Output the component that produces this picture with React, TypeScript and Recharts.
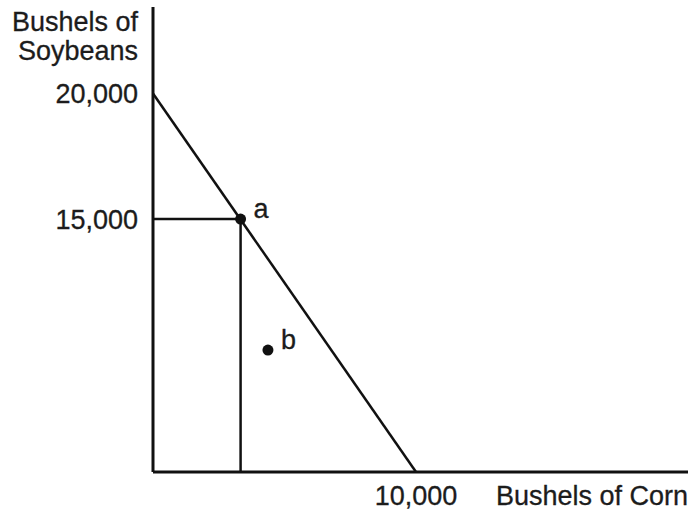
import { ComposedChart, Line, Scatter, XAxis, YAxis, Label, LabelList } from 'recharts';

// Production possibilities: corn vs soybeans.
// The figure is a sketch, so the axis scale is taken from its own tick labels
// (20,000 and 15,000 on the soybean axis, 10,000 on the corn axis).
const X_DOMAIN = [0, 20340];
const Y_DOMAIN = [4920, 23450];
const X_TICKS = [10000];
const Y_TICKS = [15000, 20000];

// frontier, from the soybean intercept to the corn intercept
const PPF = [
  { corn: 0, soy: 20000 },
  { corn: 10000, soy: 4920 },
];

// guides from point a to both axes
const GUIDE_H = [
  { corn: 0, soy: 15000 },
  { corn: 3330, soy: 15000 },
];
const GUIDE_V = [
  { corn: 3330, soy: 15000 },
  { corn: 3330, soy: 4920 },
];

const POINTS = [
  { corn: 3330, soy: 15000, name: 'a' },
  { corn: 4370, soy: 9780, name: 'b' },
];

const FONT = '"Liberation Sans", Arial, Helvetica, sans-serif';
const FS = 27;
const INK = '#111';
const TEXT = '#1c1c1c';

function Dot(props: any) {
  return <circle cx={props.cx} cy={props.cy} r={5.5} fill={INK} />;
}

function PointLabel(props: any) {
  const { x, y, width, height, value } = props;
  const cx = x + width / 2;
  const cy = y + height / 2;
  return (
    <text x={cx + 13} y={cy - 1} fontSize={FS} fontFamily={FONT} fill={TEXT} stroke={TEXT} strokeWidth={0.3}>
      {value}
    </text>
  );
}

function SoyTitle(props: any) {
  const vb = props.viewBox;
  const x = vb.x + vb.width - 15;
  return (
    <text x={x} y={vb.y} textAnchor="end" fontSize={FS} fontFamily={FONT} fill={TEXT} stroke={TEXT} strokeWidth={0.3}>
      <tspan x={x} dy={24}>Bushels of</tspan>
      <tspan x={x} dy={29}>Soybeans</tspan>
    </text>
  );
}

export default function App() {
  const tickStyle = { fontSize: FS, fill: TEXT, fontFamily: FONT, stroke: TEXT, strokeWidth: 0.3 };
  return (
    <div style={{ position: 'absolute', left: 0, top: 0, width: 692, height: 511, background: '#fff' }}>
      <ComposedChart width={692} height={511} margin={{ top: 7, right: 4, left: 0, bottom: 0 }}>
        <XAxis
          type="number"
          dataKey="corn"
          domain={X_DOMAIN}
          ticks={X_TICKS}
          tickFormatter={(v) => v.toLocaleString('en-US')}
          tick={tickStyle}
          tickLine={false}
          tickSize={0}
          tickMargin={14}
          axisLine={{ stroke: INK, strokeWidth: 3 }}
          height={39}
          allowDataOverflow
        >
          <Label
            value="Bushels of Corn"
            position="insideRight"
            offset={0}
            dy={4}
            fontSize={FS}
            fontFamily={FONT}
            fill={TEXT}
            stroke={TEXT}
            strokeWidth={0.3}
          />
        </XAxis>
        <YAxis
          type="number"
          dataKey="soy"
          domain={Y_DOMAIN}
          ticks={Y_TICKS}
          tickFormatter={(v) => v.toLocaleString('en-US')}
          tick={tickStyle}
          tickLine={false}
          tickSize={0}
          tickMargin={15}
          axisLine={{ stroke: INK, strokeWidth: 3 }}
          width={153}
          allowDataOverflow
        >
          <Label content={<SoyTitle />} />
        </YAxis>
        <Line data={PPF} dataKey="soy" stroke={INK} strokeWidth={2.5} dot={false} isAnimationActive={false} />
        <Line data={GUIDE_H} dataKey="soy" stroke={INK} strokeWidth={2.5} dot={false} isAnimationActive={false} />
        <Line data={GUIDE_V} dataKey="soy" stroke={INK} strokeWidth={2.5} dot={false} isAnimationActive={false} />
        <Scatter data={POINTS} dataKey="soy" shape={<Dot />} isAnimationActive={false}>
          <LabelList dataKey="name" content={<PointLabel />} />
        </Scatter>
      </ComposedChart>
    </div>
  );
}
